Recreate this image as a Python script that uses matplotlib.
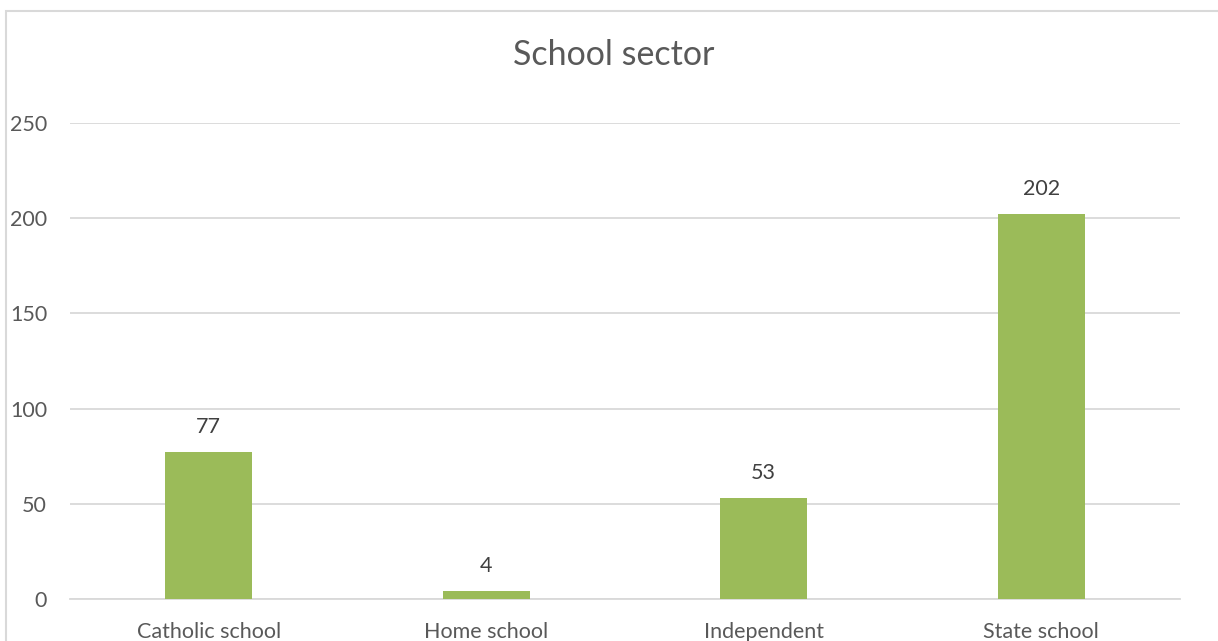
import matplotlib
matplotlib.use('Agg')
import matplotlib.pyplot as plt
from matplotlib.patches import Rectangle

categories = ['Catholic school', 'Home school', 'Independent', 'State school']
counts = [77, 4, 53, 202]
yticks = [0, 50, 100, 150, 200, 250]

plt.rcParams['font.family'] = ['Lato', 'DejaVu Sans']

W, H = 1218, 641
fig = plt.figure(figsize=(W / 100, H / 100), dpi=100)
ax = fig.add_axes([70 / W, 42 / H, 1110 / W, 476 / H])

x = list(range(len(categories)))
bars = ax.bar(x, counts, width=0.314, color='#9BBB59', zorder=3)

for xi, v in zip(x, counts):
    ax.annotate(str(v), (xi, v), xytext=(0, 18), textcoords='offset points',
                ha='center', va='center', fontsize=15.5, color='#404040')

ax.set_xlim(-0.5, len(categories) - 0.5)
ax.set_ylim(0, 250)
ax.set_yticks(yticks)
ax.set_xticks(x)
ax.set_xticklabels(categories)
ax.yaxis.grid(True, color='#D9D9D9', linewidth=1.3, zorder=0)
ax.set_axisbelow(True)
for s in ['top', 'right', 'left']:
    ax.spines[s].set_visible(False)
ax.spines['bottom'].set_color('#D9D9D9')
ax.spines['bottom'].set_linewidth(1.3)
ax.tick_params(axis='both', length=0, labelsize=15.5, labelcolor='#595959')
ax.tick_params(axis='y', pad=16.5)
ax.tick_params(axis='x', pad=16.5)

fig.text(614 / W, 1 - 55 / H, 'School sector', ha='center', va='center',
         fontsize=24.5, color='#595959')

# chart border (cropped on the right and bottom)
fig.patches.append(Rectangle((6 / W, -0.1), 1.2, 1 - 11 / H + 0.1,
                             transform=fig.transFigure, fill=False,
                             edgecolor='#D9D9D9', linewidth=1.5))

fig.savefig('out.png', dpi=100)
